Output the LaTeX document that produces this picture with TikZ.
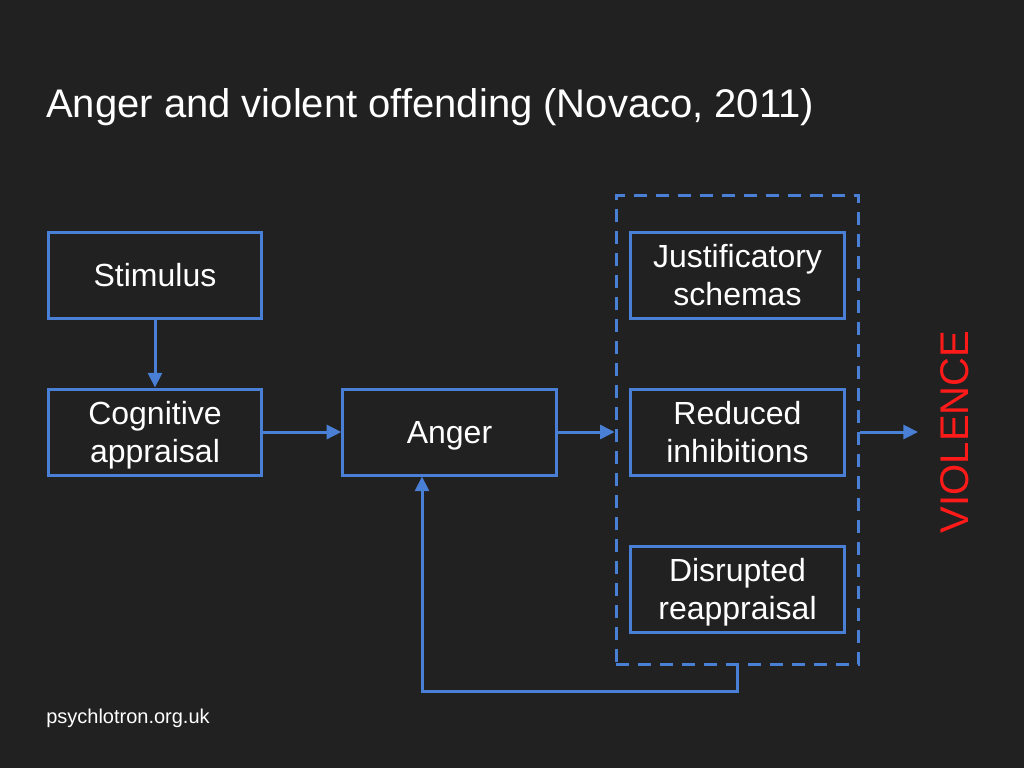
\documentclass[tikz,border=0pt]{standalone}
\usepackage{fontspec}
\setmainfont{Liberation Sans}
\usepackage{tikz}
\usetikzlibrary{arrows.meta}
\definecolor{bg}{HTML}{212121}
\definecolor{linkblue}{HTML}{4A7FD6}
\definecolor{alarm}{HTML}{FF1A1A}

\begin{document}
\begin{tikzpicture}[x=0.75pt,y=-0.75pt,
    box/.style={draw=linkblue,line width=2.25pt,minimum width=160pt,minimum height=64.5pt,
        text=white,align=center,inner sep=0pt,text depth=0pt,font=\fontsize{24}{29}\selectfont},
    group/.style={draw=linkblue,line width=2.25pt,dash pattern=on 9.75pt off 6.75pt,
        minimum width=182pt,minimum height=351.75pt,inner sep=0pt},
    caption/.style={anchor=base west,text=white,inner sep=0pt},
    flow/.style={draw=linkblue,line width=2.25pt,-{Triangle[length=11pt,width=10.5pt]}}]
            \fill[bg] (0,0) rectangle (1024,768);
            \useasboundingbox (0,0) rectangle (1024,768);
            \node[caption,font=\fontsize{30}{36}\selectfont] (title) at (46,117) {Anger and violent offending (Novaco, 2011)};
            \node[box] (stimulus) at (155,275) {Stimulus};
            \node[box] (appraisal) at (155,432) {Cognitive\\appraisal};
            \node[box] (anger) at (449.5,432) {Anger};
            \node[group] (factors) at (737.5,429.5) {};
            \node[box] (schemas) at (737.5,275) {Justificatory\\schemas};
            \node[box] (inhibit) at (737.5,432) {Reduced\\inhibitions};
            \node[box] (reappr) at (737.5,589) {Disrupted\\reappraisal};
            \node[rotate=90,text=alarm,font=\fontsize{30}{36}\selectfont,inner sep=0pt] (violence) at (955,432) {VIOLENCE};
            \node[caption,font=\fontsize{15}{18}\selectfont] (site) at (46,723) {psychlotron.org.uk};
            \coordinate (loop) at (422,691);
            \coordinate (out) at (918,432);
            \draw[flow] (stimulus) -- (appraisal);
            \draw[flow] (appraisal) -- (anger);
            \draw[flow] (anger) -- (factors.west |- anger);
            \draw[flow] (factors.east |- out) -- (out);
            \draw[flow] (factors.south) |- (loop) -- (loop |- anger.south);
        \end{tikzpicture}
\end{document}
